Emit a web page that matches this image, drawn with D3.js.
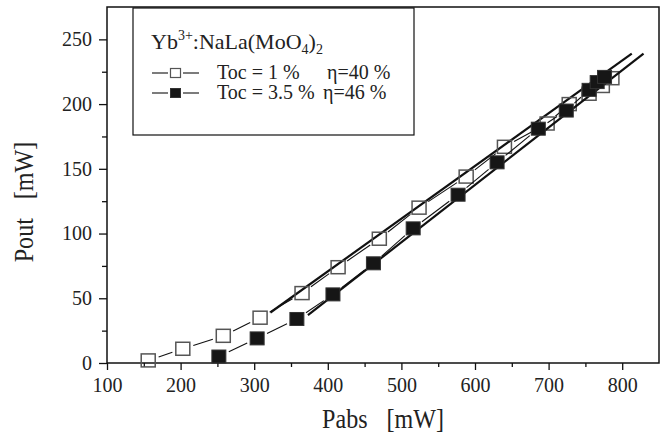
<!DOCTYPE html>
<html>
<head>
<meta charset="utf-8">
<script src="https://cdn.jsdelivr.net/npm/d3@7"></script>
<style>
  body { margin: 0; background: #fff; }
  svg text { font-family: 'Liberation Serif', 'Times New Roman', serif !important; }
</style>
</head>
<body>
<div id="chart"></div>
<script>
// Toc = 1 % (open squares)
var pabs1 = [156, 203, 258, 308, 365, 414, 470, 524, 588, 640, 698, 728, 755, 773, 786];
var pout1 = [2, 11, 21, 35, 54, 74, 96, 120, 144, 167, 185, 200, 208, 214, 220];
// Toc = 3.5 % (filled squares)
var pabs2 = [252, 304, 358, 407, 462, 516, 577, 630, 686, 724, 755, 766, 776];
var pout2 = [5, 19, 34, 53, 77, 104, 130, 155, 181, 195, 211, 217, 221];
// linear fits (end points)
var fit1 = [[322, 39], [813, 239]];
var fit2 = [[373, 37], [829, 239]];

var xTicks = [100, 200, 300, 400, 500, 600, 700, 800];
var xMinor = [150, 250, 350, 450, 550, 650, 750];
var yTicks = [0, 50, 100, 150, 200, 250];
var yMinor = [25, 75, 125, 175, 225];

var W = 667, H = 437;
var serif = "'Liberation Serif', 'Times New Roman', serif";
var svg = d3.select("#chart").append("svg")
  .attr("width", W)
  .attr("height", H)
  .style("font-family", serif);

var x = d3.scaleLinear().domain([100, 850]).range([107, 659]);
var y = d3.scaleLinear().domain([0, 275]).range([363, 7]);

var ink = "#111";

// axes
var gx = svg.append("g").attr("transform", "translate(0,363)")
  .call(d3.axisBottom(x).tickValues(xTicks).tickSize(7).tickPadding(8).tickFormat(d3.format("d")));
var gxm = svg.append("g").attr("transform", "translate(0,363)")
  .call(d3.axisBottom(x).tickValues(xMinor).tickSize(4).tickFormat(""));
var gy = svg.append("g").attr("transform", "translate(107,0)")
  .call(d3.axisLeft(y).tickValues(yTicks).tickSize(8).tickPadding(7).tickFormat(d3.format("d")));
var gym = svg.append("g").attr("transform", "translate(107,0)")
  .call(d3.axisLeft(y).tickValues(yMinor).tickSize(5).tickFormat(""));

[gx, gxm, gy, gym].forEach(function(g) {
  g.attr("font-family", null);
  g.select(".domain").remove();
  g.selectAll("line").attr("stroke", ink).attr("stroke-width", 1.3);
  g.selectAll("text")
    .style("font-family", serif)
    .attr("font-size", 20)
    .attr("fill", "#222");
});

// frame
svg.append("rect")
  .attr("x", x(100)).attr("y", y(275))
  .attr("width", x(850) - x(100)).attr("height", y(0) - y(275))
  .attr("fill", "none").attr("stroke", ink).attr("stroke-width", 1.5);

// axis titles
svg.append("text")
  .attr("transform", "translate(383,428) scale(0.86,1)")
  .attr("text-anchor", "middle")
  .attr("font-size", 28)
  .attr("fill", "#222")
  .style("font-family", serif)
  .call(function(t) {
    t.append("tspan").text("Pabs");
    t.append("tspan").attr("dx", 22).text("[mW]");
  });

svg.append("text")
  .attr("transform", "translate(33,202) rotate(-90) scale(0.86,1)")
  .attr("text-anchor", "middle")
  .attr("font-size", 28)
  .attr("fill", "#222")
  .style("font-family", serif)
  .call(function(t) {
    t.append("tspan").text("Pout");
    t.append("tspan").attr("dx", 22).text("[mW]");
  });

// thin connecting lines with gaps round the markers
function gapLines(xs, ys, gap) {
  var segs = [];
  for (var i = 0; i < xs.length - 1; i++) {
    var x0 = x(xs[i]), y0 = y(ys[i]), x1 = x(xs[i + 1]), y1 = y(ys[i + 1]);
    var dx = x1 - x0, dy = y1 - y0, len = Math.sqrt(dx * dx + dy * dy);
    if (len <= 2 * gap + 2) continue;
    var ux = dx / len, uy = dy / len;
    segs.push([x0 + ux * gap, y0 + uy * gap, x1 - ux * gap, y1 - uy * gap]);
  }
  return segs;
}

function drawSeries(xs, ys, fit, open) {
  var g = svg.append("g");
  g.selectAll("line.seg").data(gapLines(xs, ys, 11)).enter().append("line")
    .attr("class", "seg")
    .attr("x1", function(d) { return d[0]; }).attr("y1", function(d) { return d[1]; })
    .attr("x2", function(d) { return d[2]; }).attr("y2", function(d) { return d[3]; })
    .attr("stroke", ink).attr("stroke-width", 1.1);

  g.append("line")
    .attr("x1", x(fit[0][0])).attr("y1", y(fit[0][1]))
    .attr("x2", x(fit[1][0])).attr("y2", y(fit[1][1]))
    .attr("stroke", ink).attr("stroke-width", 2.2);

  g.selectAll("rect.pt").data(xs.map(function(v, i) { return [v, ys[i]]; })).enter().append("rect")
    .attr("class", "pt")
    .attr("x", function(d) { return x(d[0]) - 7; })
    .attr("y", function(d) { return y(d[1]) - 6.5; })
    .attr("width", 14).attr("height", 13)
    .attr("fill", open ? "none" : "#161616")
    .attr("stroke", open ? "#555" : "#333")
    .attr("stroke-width", open ? 1.5 : 1);
}

drawSeries(pabs1, pout1, fit1, true);
drawSeries(pabs2, pout2, fit2, false);

// legend
var lg = svg.append("g").style("font-family", serif);
lg.append("rect")
  .attr("x", 133).attr("y", 8).attr("width", 281).attr("height", 127)
  .attr("fill", "#fff").attr("stroke", ink).attr("stroke-width", 1.2);

var title = lg.append("text").attr("x", 151).attr("y", 49).attr("font-size", 22).attr("fill", "#222");
title.append("tspan").text("Yb");
title.append("tspan").attr("font-size", 14).attr("dy", -9).text("3+");
title.append("tspan").attr("dy", 9).text(":NaLa(MoO");
title.append("tspan").attr("font-size", 14).attr("dy", 5).text("4");
title.append("tspan").attr("dy", -5).text(")");
title.append("tspan").attr("font-size", 14).attr("dy", 5).text("2");

var legRows = [
  { label: "Toc = 1 %", eta: "\u03b7=40 %", etaX: 327, yb: 79, open: true },
  { label: "Toc = 3.5 %", eta: "\u03b7=46 %", etaX: 323, yb: 99, open: false }
];
legRows.forEach(function(r) {
  var cy = r.yb - 6;
  lg.append("line").attr("x1", 152).attr("x2", 168).attr("y1", cy).attr("y2", cy)
    .attr("stroke", ink).attr("stroke-width", 1.1);
  lg.append("line").attr("x1", 183).attr("x2", 199).attr("y1", cy).attr("y2", cy)
    .attr("stroke", ink).attr("stroke-width", 1.1);
  lg.append("rect").attr("x", 170.5).attr("y", cy - 4.5).attr("width", 10).attr("height", 9)
    .attr("fill", r.open ? "#fff" : "#161616")
    .attr("stroke", r.open ? "#555" : "#333").attr("stroke-width", r.open ? 1.2 : 1);
  lg.append("text").attr("x", 217).attr("y", r.yb).attr("font-size", 20).attr("fill", "#222")
    .text(r.label);
  lg.append("text").attr("x", r.etaX).attr("y", r.yb).attr("font-size", 20).attr("fill", "#222")
    .text(r.eta);
});
</script>
</body>
</html>
